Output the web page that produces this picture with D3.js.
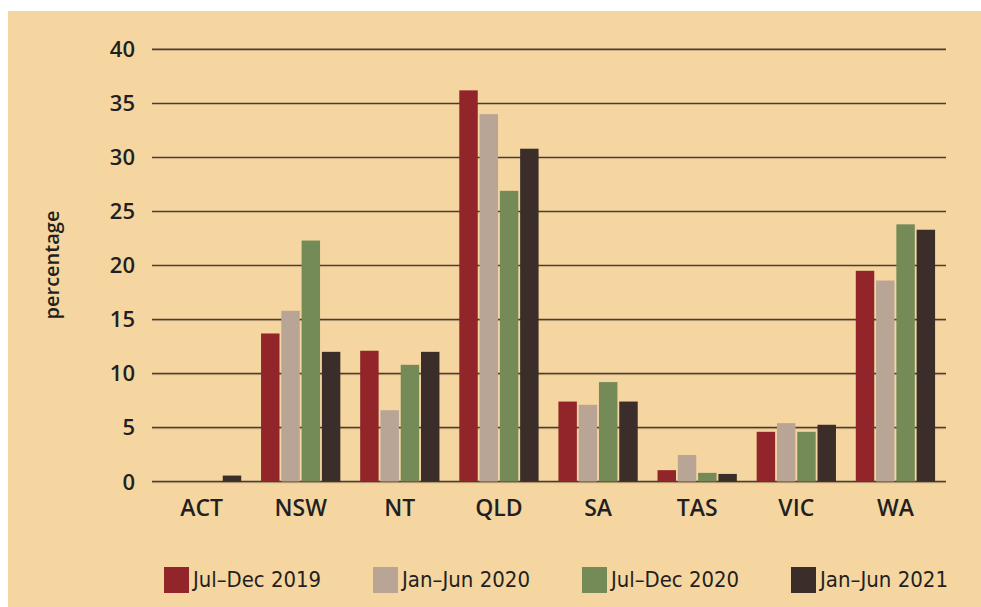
<!DOCTYPE html>
<html>
<head>
<meta charset="utf-8">
<script src="https://cdn.jsdelivr.net/npm/d3@7"></script>
<style>
  html, body { margin: 0; padding: 0; background: #fff; }
  svg { display: block; }
  .tick-lab { font-family: "Open Sans", Lato, sans-serif; font-weight: 600; fill: #231f20; }
  .leg-lab { font-family: "DejaVu Sans Condensed", "DejaVu Sans", sans-serif; fill: #231f20; }
</style>
</head>
<body>
<div id="chart"></div>
<script>
const W = 981, H = 607

const states = ['ACT', 'NSW', 'NT', 'QLD', 'SA', 'TAS', 'VIC', 'WA']
const periods = ['Jul–Dec 2019', 'Jan–Jun 2020', 'Jul–Dec 2020', 'Jan–Jun 2021']
const colors = ['#92252a', '#b8a595', '#748a57', '#3b2d2a']

// percentage per state, one array per period
const jul2019 = [0, 13.7, 12.1, 36.2, 7.4, 1.05, 4.6, 19.5]
const jan2020 = [0, 15.8, 6.6, 34.0, 7.1, 2.45, 5.4, 18.6]
const jul2020 = [0, 22.3, 10.8, 26.9, 9.2, 0.8, 4.6, 23.8]
const jan2021 = [0.55, 12.0, 12.0, 30.8, 7.4, 0.7, 5.25, 23.3]
const yTicks = [0, 5, 10, 15, 20, 25, 30, 35, 40]

const series = [jul2019, jan2020, jul2020, jan2021]

const svg = d3.select('#chart').append('svg')
  .attr('width', W).attr('height', H)

// background panel
svg.append('rect')
  .attr('x', 8).attr('y', 11)
  .attr('width', W - 8).attr('height', H - 11)
  .attr('fill', '#f5d6a0')

const x0 = d3.scaleBand().domain(states).range([152, 945])
  .paddingInner(0.2).paddingOuter(0.1)
const x1 = d3.scaleBand().domain(d3.range(periods.length))
  .range([0, x0.bandwidth()]).paddingInner(0.09)
const y = d3.scaleLinear().domain([0, 40]).range([481.5, 49.3])

// gridlines
const grid = svg.append('g')
grid.selectAll('line.shadow').data(yTicks).enter().append('line')
  .attr('class', 'shadow')
  .attr('x1', 152).attr('x2', 946)
  .attr('y1', d => y(d) + 1.2).attr('y2', d => y(d) + 1.2)
  .attr('stroke', '#c9ad84').attr('stroke-width', 1)
grid.selectAll('line.main').data(yTicks).enter().append('line')
  .attr('class', 'main')
  .attr('x1', 152).attr('x2', 946)
  .attr('y1', d => y(d)).attr('y2', d => y(d))
  .attr('stroke', '#4a3d2f').attr('stroke-width', 1.4)

// bars
const groups = svg.append('g').selectAll('g')
  .data(states).enter().append('g')
  .attr('transform', d => 'translate(' + x0(d) + ',0)')

groups.selectAll('rect')
  .data((d, i) => series.map((s, k) => ({ k: k, v: s[i] })))
  .enter().append('rect')
  .attr('x', d => x1(d.k))
  .attr('width', x1.bandwidth())
  .attr('y', d => y(d.v))
  .attr('height', d => y(0) - y(d.v))
  .attr('fill', d => colors[d.k])

// y tick labels
svg.append('g').selectAll('text')
  .data(yTicks).enter().append('text')
  .attr('class', 'tick-lab')
  .attr('x', 135).attr('y', d => y(d) + 8)
  .attr('text-anchor', 'end')
  .attr('font-size', 22)
  .text(d => d)

// category labels
svg.append('g').selectAll('text')
  .data(states).enter().append('text')
  .attr('class', 'tick-lab')
  .attr('x', d => x0(d) + x0.bandwidth() / 2)
  .attr('y', 516)
  .attr('text-anchor', 'middle')
  .attr('font-size', 23)
  .text(d => d)

// axis title
svg.append('text')
  .attr('class', 'tick-lab')
  .attr('transform', 'translate(59,265) rotate(-90)')
  .attr('text-anchor', 'middle')
  .attr('font-size', 20)
  .text('percentage')

// legend
const lx = d3.scalePoint().domain(d3.range(periods.length)).range([164, 791])
const leg = svg.append('g').selectAll('g')
  .data(periods).enter().append('g')
  .attr('transform', (d, i) => 'translate(' + lx(i) + ',567)')
leg.append('rect')
  .attr('width', 25).attr('height', 26)
  .attr('fill', (d, i) => colors[i])
leg.append('text')
  .attr('class', 'leg-lab')
  .attr('x', 29).attr('y', 20)
  .attr('font-size', 21)
  .attr('textLength', 128)
  .attr('lengthAdjust', 'spacingAndGlyphs')
  .text(d => d)
</script>
</body>
</html>
